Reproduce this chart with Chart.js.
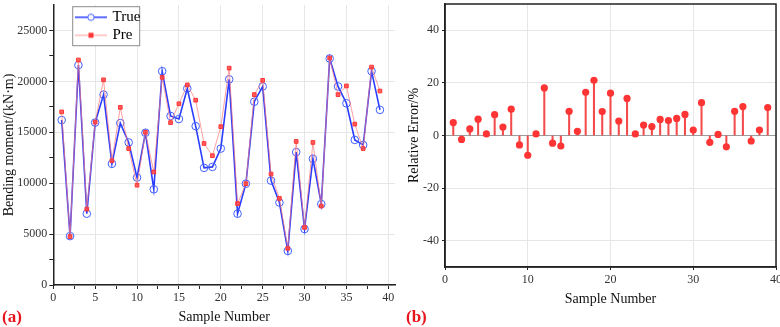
<!DOCTYPE html>
<html><head><meta charset="utf-8">
<script src="https://cdn.jsdelivr.net/npm/chart.js@4/dist/chart.umd.min.js"></script>
<style>
html,body{margin:0;padding:0;background:#fff;}
#wrap{position:relative;width:780px;height:327px;overflow:hidden;background:#fff;}
#cA{position:absolute;left:0;top:0;}
#cB{position:absolute;left:400px;top:0;}
.tag{position:absolute;font-family:'Liberation Serif',serif;font-weight:bold;font-size:17px;color:#e8141c;line-height:1;}
</style></head>
<body><div id="wrap">
<canvas id="cA" width="400" height="327"></canvas>
<canvas id="cB" width="380" height="327"></canvas>
<div class="tag" style="left:2px;top:308px">(a)</div>
<div class="tag" style="left:406px;top:308px">(b)</div>
</div>
<script>
// ---------------- DATA ----------------
const sampleNumbers = [1,2,3,4,5,6,7,8,9,10,11,12,13,14,15,16,17,18,19,20,21,22,23,24,25,26,27,28,29,30,31,32,33,34,35,36,37,38,39];
const trueValues = [16200,4800,21600,7000,15950,18700,11900,15900,14000,10550,14950,9400,21000,16600,16300,19300,15600,11500,11600,13400,20200,7000,9950,18000,19500,10250,8100,3350,13050,5500,12400,7950,22250,19500,17850,14250,13750,21000,17200];
const preValues = [17000,4750,22100,7450,16000,20150,12200,17450,13400,9800,15000,11100,20400,15950,17800,19650,18150,13900,12700,15550,21300,8000,9950,18700,20100,10900,8500,3600,14100,5650,14000,7750,22300,18700,19550,15800,13400,21400,19050];
const relErrors = [4.9,-1.5,2.5,6.2,0.6,7.9,3.2,10.0,-3.6,-7.5,0.6,18.1,-2.9,-4.0,9.2,1.6,16.4,21.0,9.1,16.1,5.5,14.1,0.6,4.0,3.4,6.1,5.7,6.5,8.0,2.1,12.5,-2.6,0.4,-4.3,9.2,11.0,-2.1,2.1,10.6];
const seriesNames = ['True','Pre'];
const leftXMajor = [0,5,10,15,20,25,30,35,40];
const leftXMinor = [2.5,7.5,12.5,17.5,22.5,27.5,32.5,37.5];
const leftYMajor = [0,5000,10000,15000,20000,25000];
const leftYMinor = [2500,7500,12500,17500,22500];
const rightXTicks = [0,10,20,30,40];
const rightYTicks = [-40,-20,0,20,40];
const leftXTitle = 'Sample Number';
const leftYTitle = 'Bending moment/(kN·m)';
const rightXTitle = 'Sample Number';
const rightYTitle = 'Relative Error/%';

// ---------------- STYLE ----------------
const FONT = "'Liberation Serif', 'Times New Roman', serif";
Chart.defaults.font.family = FONT;
Chart.defaults.color = '#333';
const GRID = '#e6e6e6';
const AXIS = '#222';
const BLUE = '#2a3cff';
const RED = '#ff3434';

function makeImg(kind){
  const c = document.createElement('canvas');
  c.width = 32; c.height = 10;
  const g = c.getContext('2d');
  if(kind === 0){
    g.strokeStyle = BLUE; g.lineWidth = 1.5;
    g.beginPath(); g.moveTo(0,5); g.lineTo(32,5); g.stroke();
    g.fillStyle = '#fff'; g.strokeStyle = '#4060ff'; g.lineWidth = 1;
    g.beginPath(); g.arc(16,5,3.2,0,Math.PI*2); g.fill(); g.stroke();
  } else {
    g.strokeStyle = 'rgba(255,130,130,0.8)'; g.lineWidth = 1;
    g.beginPath(); g.moveTo(0,5); g.lineTo(32,5); g.stroke();
    g.fillStyle = RED; g.fillRect(13.5,2.5,5,5);
  }
  return c;
}
const legendImgs = [makeImg(0), makeImg(1)];

const tickList = (a,b) => a.concat(b).sort((p,q)=>p-q).map(v=>({value:v}));

const legendFrame = {
  id: 'legendFrame',
  afterLayout(chart){
    const lg = chart.legend; if(!lg) return;
    const ca = chart.chartArea;
    lg.left = ca.left + 20.7;
    lg.top = ca.top + 1.8;
    if(!lg._wrapped){
      const orig = lg.draw;
      lg.draw = function(a){
        const ctx = chart.ctx;
        ctx.save();
        ctx.fillStyle = '#fff';
        ctx.fillRect(this.left - 1.3, this.top - 0.1, 67, 39);
        ctx.strokeStyle = '#8c8c8c'; ctx.lineWidth = 1;
        ctx.strokeRect(this.left - 1.3, this.top - 0.1, 67, 39);
        ctx.restore();
        orig.call(this, a);
      };
      lg._wrapped = true;
    }
  }
};

new Chart(document.getElementById('cA'), {
  type: 'line',
  data: { datasets: [
    { label: seriesNames[0], data: sampleNumbers.map((x,i)=>({x, y: trueValues[i]})),
      borderColor: BLUE, borderWidth: 1.6, tension: 0, order: 2,
      pointStyle: 'circle', pointRadius: 3.8, pointBorderWidth: 1,
      pointBorderColor: '#4060ff', pointBackgroundColor: 'rgba(255,255,255,0)' },
    { label: seriesNames[1], data: sampleNumbers.map((x,i)=>({x, y: preValues[i]})),
      borderColor: 'rgba(255,120,120,0.7)', borderWidth: 1, tension: 0, order: 1,
      pointStyle: 'rect', pointRadius: 2.6, pointBorderWidth: 1,
      pointBorderColor: RED, pointBackgroundColor: 'rgba(255,70,70,0.85)' }
  ]},
  options: {
    responsive: false, animation: false, devicePixelRatio: 1,
    layout: { padding: { top: 5, right: 3, bottom: 0, left: 0 } },
    plugins: {
      tooltip: { enabled: false },
      legend: {
        position: 'chartArea', align: 'start',
        labels: {
          usePointStyle: true, pointStyleWidth: 28, padding: 3,
          font: { size: 15, family: FONT }, color: '#111',
          generateLabels: () => seriesNames.map((t,i)=>({
            text: t, pointStyle: legendImgs[i], hidden: false, datasetIndex: i,
            lineWidth: 0, fillStyle: 'rgba(0,0,0,0)', strokeStyle: 'rgba(0,0,0,0)'
          }))
        }
      }
    },
    scales: {
      x: {
        type: 'linear', min: 0, max: 40.8,
        afterBuildTicks: s => { s.ticks = tickList(leftXMajor, leftXMinor); },
        afterFit: s => { s.height = 42; s.paddingLeft = 0; s.paddingRight = 0; },
        ticks: { autoSkip: false, maxRotation: 0, padding: 2, font: { size: 12 }, color: '#333',
                 callback: v => leftXMajor.includes(v) ? String(v) : '' },
        grid: { color: c => (c.tick && leftXMajor.includes(c.tick.value)) ? GRID : 'rgba(0,0,0,0)',
                tickColor: AXIS, tickLength: 4, lineWidth: 1 },
        border: { color: AXIS, width: 1.5 },
        title: { display: true, text: leftXTitle, font: { size: 14 }, color: '#111', padding: { top: 0, bottom: 1.6 } }
      },
      y: {
        type: 'linear', min: 0, max: 27500,
        afterBuildTicks: s => { s.ticks = tickList(leftYMajor, leftYMinor); },
        afterFit: s => { s.width = 53.3; s.paddingTop = 0; s.paddingBottom = 0; },
        ticks: { autoSkip: false, padding: 2, font: { size: 12 }, color: '#333',
                 callback: v => leftYMajor.includes(v) ? String(v) : '' },
        grid: { color: c => (c.tick && leftYMajor.includes(c.tick.value)) ? GRID : 'rgba(0,0,0,0)',
                tickColor: AXIS, tickLength: 4, lineWidth: 1 },
        border: { color: AXIS, width: 1.5 },
        title: { display: true, text: leftYTitle, font: { size: 14 }, color: '#111', padding: { top: 0.6, bottom: 0 } }
      }
    }
  },
  plugins: [legendFrame]
});

const boxFrame = {
  id: 'boxFrame',
  afterDraw(chart){
    const {ctx, chartArea: a} = chart;
    ctx.save();
    ctx.strokeStyle = AXIS; ctx.lineWidth = 1.5;
    ctx.strokeRect(a.left, a.top, a.right - a.left, a.bottom - a.top);
    ctx.restore();
  }
};

new Chart(document.getElementById('cB'), {
  type: 'scatter',
  data: { datasets: [
    { type: 'bar', label: 'stem', data: sampleNumbers.map((x,i)=>({x, y: relErrors[i]})),
      backgroundColor: 'rgba(242,45,45,0.85)', borderWidth: 0, barThickness: 1.4, order: 2 },
    { type: 'scatter', label: 'Relative Error', data: sampleNumbers.map((x,i)=>({x, y: relErrors[i]})),
      pointRadius: 3.6, pointBackgroundColor: RED, pointBorderWidth: 0, order: 1 }
  ]},
  options: {
    responsive: false, animation: false, devicePixelRatio: 1,
    layout: { padding: { top: 1, right: 4, bottom: 18.6, left: 0 } },
    plugins: { legend: { display: false }, tooltip: { enabled: false } },
    scales: {
      x: {
        type: 'linear', min: 0, max: 40, offset: false,
        afterBuildTicks: s => { s.ticks = rightXTicks.map(v=>({value:v})); },
        afterFit: s => { s.height = 41.4; s.paddingLeft = 0; s.paddingRight = 0; },
        ticks: { autoSkip: false, maxRotation: 0, padding: 3, font: { size: 12 }, color: '#333' },
        grid: { offset: false, color: GRID, tickColor: AXIS, tickLength: 3, lineWidth: 1 },
        border: { color: AXIS, width: 1.5 },
        title: { display: true, text: rightXTitle, font: { size: 14 }, color: '#111', padding: { top: 0, bottom: 1 } }
      },
      y: {
        type: 'linear', min: -50, max: 50,
        afterBuildTicks: s => { s.ticks = rightYTicks.map(v=>({value:v})); },
        afterFit: s => { s.width = 45; s.paddingTop = 0; s.paddingBottom = 0; },
        ticks: { autoSkip: false, padding: 3, font: { size: 12 }, color: '#333' },
        grid: { color: c => (c.tick && c.tick.value === 0) ? '#9c9c9c' : GRID, tickColor: AXIS, tickLength: 3, lineWidth: 1 },
        border: { color: AXIS, width: 1.5 },
        title: { display: true, text: rightYTitle, font: { size: 14 }, color: '#111', padding: { top: 5.6, bottom: 0 } }
      }
    }
  },
  plugins: [boxFrame]
});
</script>
</body></html>
